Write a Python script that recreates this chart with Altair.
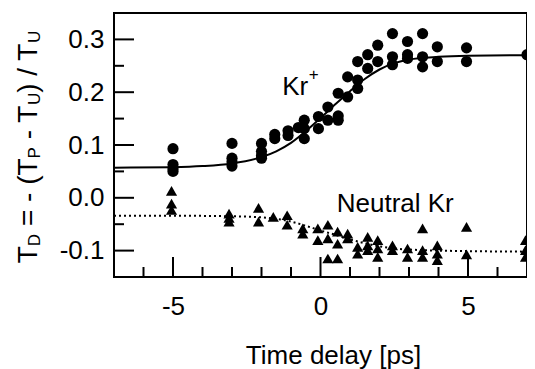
import altair as alt
import pandas as pd

# ---- data ----
kr_t = [-5, -5, -5, -5, -3, -3, -3, -3, -2, -2, -2, -2, -1.55, -1.55, -1.1, -1.1, -0.75,
        -0.55, -0.55, -0.55, -0.07, -0.07, 0.25, 0.25, 0.6, 0.6, 0.6, 0.92, 0.92,
        1.26, 1.26, 1.26, 1.6, 1.6, 1.94, 1.94, 2.44, 2.44, 2.44, 2.95, 2.95, 2.95,
        3.46, 3.46, 3.46, 3.96, 3.96, 4.95, 4.95, 7.0]
kr_v = [0.093, 0.063, 0.055, 0.050, 0.103, 0.075, 0.068, 0.060, 0.103, 0.088, 0.080, 0.075,
        0.120, 0.112, 0.127, 0.118, 0.133, 0.147, 0.131, 0.112, 0.154, 0.131, 0.172, 0.147,
        0.198, 0.155, 0.147, 0.229, 0.191, 0.258, 0.223, 0.207, 0.271, 0.245, 0.289, 0.258,
        0.311, 0.267, 0.252, 0.296, 0.271, 0.264, 0.311, 0.267, 0.248, 0.286, 0.258,
        0.284, 0.258, 0.271]

kr_fit_t = [-7, -5, -4, -3, -2, -1.5, -1, -0.5, 0, 0.5, 1, 1.5, 2, 2.5, 3, 4, 5, 7]
kr_fit_v = [0.057, 0.058, 0.060, 0.065, 0.077, 0.088, 0.104, 0.126, 0.151, 0.177, 0.202,
            0.225, 0.243, 0.255, 0.262, 0.267, 0.269, 0.270]

n_t = [-5.05, -5.05, -5.05, -3.1, -3.1, -3.1, -2.1, -2.1, -1.6, -1.13, -1.13, -0.6, -0.6,
       -0.09, -0.09, 0.25, 0.25, 0.25, 0.58, 0.58, 0.58, 0.92, 0.92, 1.26, 1.26,
       1.6, 1.6, 1.6, 1.94, 1.94, 1.94, 2.44, 2.44, 2.95, 2.95, 3.46, 3.46, 3.46,
       3.96, 3.96, 3.96, 4.95, 4.95, 6.95, 6.95, 6.95]
n_v = [0.013, -0.011, -0.023, -0.030, -0.038, -0.045, -0.019, -0.045, -0.036, -0.033, -0.051,
       -0.058, -0.068, -0.058, -0.080, -0.051, -0.077, -0.115, -0.064, -0.087, -0.115,
       -0.068, -0.077, -0.093, -0.106, -0.074, -0.090, -0.099, -0.080, -0.096, -0.112,
       -0.090, -0.099, -0.096, -0.112, -0.058, -0.099, -0.112, -0.090, -0.106, -0.118,
       -0.055, -0.107, -0.080, -0.099, -0.112]

n_fit_t = [-7, -5, -3, -2, -1.5, -1, -0.5, 0, 0.5, 1, 1.5, 2, 2.5, 3, 4, 5, 7]
n_fit_v = [-0.034, -0.034, -0.035, -0.037, -0.040, -0.045, -0.053, -0.062, -0.070, -0.079,
           -0.086, -0.092, -0.096, -0.098, -0.100, -0.101, -0.102]

x_major = [-5, 0, 5]
x_minor = [-6, -4, -3, -2, -1, 1, 2, 3, 4, 6]
y_major = [-0.1, 0.0, 0.1, 0.2, 0.3]
y_minor = [-0.05, 0.05, 0.15, 0.25]

labels_txt = ["Kr", "+", "Neutral Kr"]
labels_x = [-1.3, -0.4, 0.55]
labels_y = [0.195, 0.2235, -0.0265]
labels_size = [26, 17, 26]

# ---- layout ----
W, H = 413, 264
FONT = "Liberation Sans"
F = 26
FT = 28
FS = 17
X_DOM = [-7, 7]
Y_DOM = [-0.15, 0.35]

xs = alt.Scale(domain=X_DOM, nice=False, zero=False)
ys = alt.Scale(domain=Y_DOM, nice=False, zero=False)

kr_df = pd.DataFrame({"t": kr_t, "v": kr_v})
krf_df = pd.DataFrame({"t": kr_fit_t, "v": kr_fit_v})
n_df = pd.DataFrame({"t": n_t, "v": n_v})
nf_df = pd.DataFrame({"t": n_fit_t, "v": n_fit_v})

xaxis = alt.Axis(values=x_major, ticks=False, domain=False, grid=False,
                 labelFont=FONT, labelFontSize=F, labelColor="black", labelPadding=16,
                 labelExpr="datum.value < 0 ? '-' + format(abs(datum.value), 'd') : format(datum.value, 'd')",
                 title="Time delay [ps]", titleFont=FONT, titleFontSize=F,
                 titleFontWeight="normal", titleColor="black",
                 titleX=219, titleY=86, titleAlign="center", titleBaseline="alphabetic")
yaxis = alt.Axis(values=y_major, ticks=False, domain=False, grid=False,
                 labelFont=FONT, labelFontSize=F, labelColor="black", labelPadding=10,
                 labelExpr="datum.value < 0 ? '-' + format(abs(datum.value), '.1f') : format(datum.value, '.1f')",
                 title=None)

kr_pts = alt.Chart(kr_df).mark_point(shape="circle", filled=True, size=125, color="black",
                                     opacity=1).encode(
    x=alt.X("t:Q", scale=xs, axis=xaxis), y=alt.Y("v:Q", scale=ys, axis=yaxis))
kr_line = alt.Chart(krf_df).mark_line(color="black", strokeWidth=2, interpolate="monotone").encode(
    x=alt.X("t:Q", scale=xs), y=alt.Y("v:Q", scale=ys))
n_pts = alt.Chart(n_df).mark_point(shape="triangle-up", filled=True, size=125, color="black",
                                   opacity=1).encode(
    x=alt.X("t:Q", scale=xs), y=alt.Y("v:Q", scale=ys))
n_line = alt.Chart(nf_df).mark_line(color="black", strokeWidth=2, strokeDash=[2, 3],
                                    interpolate="monotone").encode(
    x=alt.X("t:Q", scale=xs), y=alt.Y("v:Q", scale=ys))

def xticks(vals, length):
    return alt.Chart(pd.DataFrame({"t": vals})).mark_rule(color="black", strokeWidth=2).encode(
        x=alt.X("t:Q", scale=xs), y=alt.value(H), y2=alt.value(H - length))

def yticks(vals, length):
    return alt.Chart(pd.DataFrame({"v": vals})).mark_rule(color="black", strokeWidth=2).encode(
        y=alt.Y("v:Q", scale=ys), x=alt.value(0), x2=alt.value(length))

ann = alt.Chart(pd.DataFrame({"txt": labels_txt, "t": labels_x, "v": labels_y,
                              "s": labels_size})).mark_text(
    font=FONT, align="left", baseline="alphabetic", color="black").encode(
    x=alt.X("t:Q", scale=xs), y=alt.Y("v:Q", scale=ys), text="txt:N",
    size=alt.Size("s:Q", scale=None, legend=None))

# ---- rotated y title with subscripts ----
pieces = [("T", FT, 0), ("D", FS, 1), (" = - (T", FT, 0), ("P", FS, 1), (" - T", FT, 0),
          ("U", FS, 1), (") / T", FT, 0), ("U", FS, 1)]
widths = {"T": 611, "D": 722, "P": 667, "U": 722, " ": 278, "=": 584, "-": 333,
          "(": 333, ")": 333, "/": 278}
lens = [sum(widths[c] for c in s) * sz / 1000 for s, sz, _ in pieces]
total = sum(lens)
start = 134 + total / 2
title_layers = []
pos = start
for (s, sz, sub), ln in zip(pieces, lens):
    lead = len(s) - len(s.lstrip(" "))
    ypos = pos - lead * widths[" "] * sz / 1000
    title_layers.append(
        alt.Chart(pd.DataFrame({"a": [0]})).mark_text(
            text=s.strip(" "), font=FONT, fontSize=sz, angle=270, align="left",
            baseline="alphabetic", color="black").encode(
            x=alt.value(-77 + (3 if sub else 0)), y=alt.value(ypos)))
    pos -= ln

chart = alt.layer(
    kr_line, n_line, kr_pts, n_pts,
    xticks(x_major, 20), xticks(x_minor, 10), yticks(y_major, 20), yticks(y_minor, 10),
    ann, *title_layers
).properties(
    width=W, height=H, autosize=alt.AutoSizeParams(type="none"),
    padding={"left": 106, "top": 5, "right": 0, "bottom": 92}
).configure(background="white").configure_view(stroke="black", strokeWidth=2)

chart.save("out.html", embed_options={"renderer": "svg", "actions": False})
